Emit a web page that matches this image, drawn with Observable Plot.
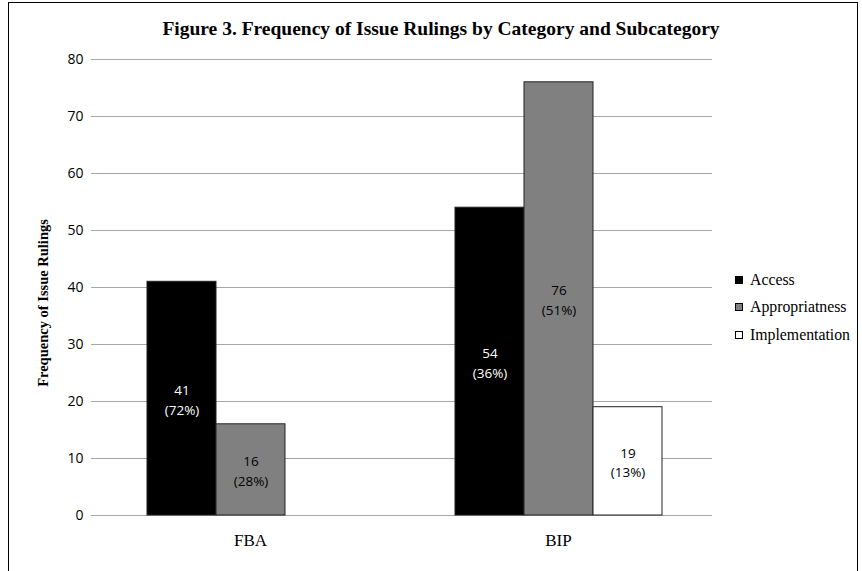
<!DOCTYPE html>
<html><head><meta charset="utf-8">
<script src="https://cdn.jsdelivr.net/npm/d3@7"></script>
<script src="https://cdn.jsdelivr.net/npm/@observablehq/plot@0.6"></script>
<style>
body{margin:0;background:#fff;}
#wrap{position:relative;width:862px;height:571px;overflow:hidden;background:#fff;}
#frame{position:absolute;left:8px;top:2px;width:850px;height:620px;border:1.5px solid #000;box-sizing:border-box;}
#title{position:absolute;left:0;width:882px;top:18px;text-align:center;font:bold 19.5px "Liberation Serif";color:#000;}
#chart{position:absolute;left:0;top:0;}
#ylabel{position:absolute;left:43px;top:303px;transform:translate(-50%,-50%) rotate(-90deg);white-space:nowrap;font:bold 14.5px "Liberation Serif";}
#legend{position:absolute;left:735px;top:266px;font:15.8px "Liberation Serif";}
.item{display:flex;align-items:center;height:27.5px;}
.sw{width:8px;height:8px;border:1px solid #000;margin-right:7px;box-sizing:border-box;}
</style></head>
<body>
<div id="wrap">
  <div id="frame"></div>
  <div id="chart"></div>
  <div id="title">Figure 3. Frequency of Issue Rulings by Category and Subcategory</div>
  <div id="ylabel">Frequency of Issue Rulings</div>
  <div id="legend"></div>
</div>
<script>
const categories = ["FBA", "BIP"];
const series = ["Access", "Appropriatness", "Implementation"];
const fbaValues = [41, 16, 0];
const bipValues = [54, 76, 19];
const seriesColors = ["#000000", "#808080", "#ffffff"];
const yTicks = [0, 10, 20, 30, 40, 50, 60, 70, 80];

const valuesByCategory = {FBA: fbaValues, BIP: bipValues};
const data = [];
for (const c of categories) {
  const vals = valuesByCategory[c];
  const total = d3.sum(vals);
  series.forEach((s, i) => {
    if (vals[i] > 0) data.push({category: c, series: s, value: vals[i], pct: Math.round(vals[i] / total * 100)});
  });
}

const chart = Plot.plot({
  width: 862,
  height: 571,
  marginTop: 59,
  marginBottom: 56,
  marginLeft: 95,
  marginRight: 150,
  style: {background: "transparent", color: "#000"},
  fx: {domain: categories, padding: 0, label: null, axis: null},
  x: {domain: series, paddingInner: 0, paddingOuter: 0.73, axis: null},
  y: {domain: [0, 80], ticks: yTicks},
  color: {domain: series, range: seriesColors},
  marks: [
    Plot.gridY(yTicks.filter(t => t > 0), {stroke: "#a6a6a6", strokeOpacity: 1}),
    Plot.ruleY([0], {stroke: "#a6a6a6"}),
    Plot.axisY({ticks: yTicks, tickSize: 5, tickPadding: 8, line: true, stroke: "#a6a6a6", fontSize: 14, fontFamily: "Open Sans", label: null}),
    Plot.barY(data, {fx: "category", x: "series", y: "value", fill: "series", stroke: "#222", strokeWidth: 1, inset: 0}),
    Plot.text(data, {
      fx: "category", x: "series", y: d => d.value / 2,
      text: d => `${d.value}\n(${d.pct}%)`,
      fill: d => d.series === "Access" ? "#fff" : "#000",
      fontSize: 13.5, fontFamily: "Open Sans", lineHeight: 1.45
    }),
    Plot.axisFx({anchor: "bottom", tickSize: 0, tickPadding: 18, fontSize: 17, fontFamily: "Liberation Serif", label: null})
  ]
});
document.getElementById("chart").appendChild(chart);

const legend = document.getElementById("legend");
series.forEach((s, i) => {
  const item = document.createElement("div");
  item.className = "item";
  const sw = document.createElement("span");
  sw.className = "sw";
  sw.style.background = seriesColors[i];
  item.appendChild(sw);
  item.appendChild(document.createTextNode(s));
  legend.appendChild(item);
});
</script>
</body></html>
